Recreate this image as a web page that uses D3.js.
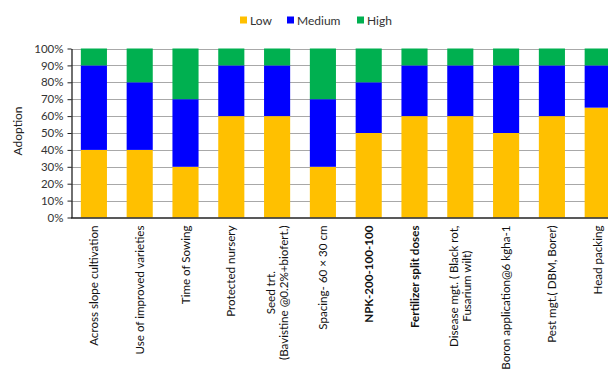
<!DOCTYPE html>
<html><head><meta charset="utf-8">
<script src="https://cdn.jsdelivr.net/npm/d3@7"></script>
<style>body{margin:0;background:#fff;overflow:hidden}svg{display:block}</style>
</head><body>
<svg id="c" width="608" height="380"></svg>
<script>
const categories = [
  ["Across slope cultivation"],
  ["Use of improved varieties"],
  ["Time of Sowing"],
  ["Protected nursery"],
  ["Seed trt.", "(Bavistine @0.2%+biofert.)"],
  ["Spacing- 60 × 30 cm"],
  ["NPK-200-100-100"],
  ["Fertilizer split doses"],
  ["Disease mgt. ( Black rot,", "Fusarium wilt)"],
  ["Boron application@6 kgha-1"],
  ["Pest mgt.( DBM, Borer)"],
  ["Head packing"]
];
const boldIdx = [6, 7];
const seriesNames = ["Low", "Medium", "High"];
const low    = [40, 40, 30, 60, 60, 30, 50, 60, 60, 50, 60, 65];
const medium = [50, 40, 40, 30, 30, 40, 30, 30, 30, 40, 30, 25];
const high   = [10, 20, 30, 10, 10, 30, 20, 10, 10, 10, 10, 10];
const yTicks = [0,10,20,30,40,50,60,70,80,90,100];
const colors = ["#FFC000", "#0000FF", "#00B050"];

const svg = d3.select("#c");
const x0 = 71, plotTop = 48.5, plotBottom = 217.5;
const step = 45.8;
const x = d3.scaleBand().domain(d3.range(categories.length))
  .range([x0, x0 + step * categories.length]).paddingInner(0.43).paddingOuter(0.215);
const y = d3.scaleLinear().domain([0, 100]).range([plotBottom, plotTop]);

// gridlines
svg.append("g").selectAll("line").data(yTicks.filter(d => d > 0)).join("line")
  .attr("x1", x0).attr("x2", 608)
  .attr("y1", d => Math.round(y(d)) + 0.5).attr("y2", d => Math.round(y(d)) + 0.5)
  .attr("stroke", "#a8a8a8").attr("stroke-width", 1);

const rows = categories.map((c, i) => ({i, Low: low[i], Medium: medium[i], High: high[i]}));
const stack = d3.stack().keys(seriesNames)(rows);
svg.append("g").selectAll("g").data(stack).join("g")
  .attr("fill", (d, k) => colors[k])
  .selectAll("rect").data(d => d).join("rect")
  .attr("x", d => x(d.data.i)).attr("width", x.bandwidth())
  .attr("y", d => y(d[1])).attr("height", d => y(d[0]) - y(d[1]));

// y axis
const yAxis = d3.axisLeft(y).tickValues(yTicks).tickFormat(d => d + "%").tickSize(4).tickSizeOuter(0);
const ya = svg.append("g").attr("transform", `translate(${x0 + 0.5},0)`).call(yAxis);
ya.select(".domain").attr("stroke", "#222").attr("stroke-width", 1.3);
ya.selectAll(".tick line").attr("stroke", "#222");
ya.selectAll("text").attr("font-family", "Lato, 'Open Sans', sans-serif").attr("font-size", 11.5)
  .attr("fill", "#333").attr("x", -8);

// x axis line
svg.append("line").attr("x1", x0).attr("x2", 608).attr("y1", plotBottom + 0.5).attr("y2", plotBottom + 0.5)
  .attr("stroke", "#222").attr("stroke-width", 1.3);

// x labels
const lab = svg.append("g").selectAll("g").data(categories).join("g")
  .attr("transform", (d, i) => `translate(${x(i) + x.bandwidth() / 2},${plotBottom + 8}) rotate(-90)`);
lab.each(function (lines, i) {
  const g = d3.select(this);
  const lh = 13;
  const n = lines.length;
  const t = g.append("text").attr("font-family", "Lato, 'Open Sans', sans-serif").attr("font-size", 11.6)
    .attr("fill", "#111").attr("font-weight", boldIdx.includes(i) ? "bold" : "normal");
  lines.forEach((ln, k) => {
    t.append("tspan").attr("x", 0).attr("y", (k - (n - 1) / 2) * lh + 4).text(ln);
  });
  const widths = [];
  t.selectAll("tspan").each(function () { widths.push(this.getComputedTextLength()); });
  const maxW = d3.max(widths);
  t.selectAll("tspan").attr("text-anchor", "middle").attr("x", -maxW / 2);
});

// y title
svg.append("text").attr("transform", "translate(22,131) rotate(-90)")
  .attr("text-anchor", "middle").attr("font-family", "Lato, 'Open Sans', sans-serif")
  .attr("font-size", 12).attr("fill", "#222").text("Adoption");

// legend
const legX = [240, 287, 357];
const leg = svg.append("g").selectAll("g").data(seriesNames).join("g")
  .attr("transform", (d, k) => `translate(${legX[k]},20)`);
leg.append("rect").attr("x", 0).attr("y", -3.5).attr("width", 7).attr("height", 7).attr("fill", (d, k) => colors[k]);
leg.append("text").attr("x", 10).attr("y", 4.5).attr("font-family", "Lato, 'Open Sans', sans-serif")
  .attr("font-size", 12).attr("fill", "#333").text(d => d);
</script>
</body></html>
